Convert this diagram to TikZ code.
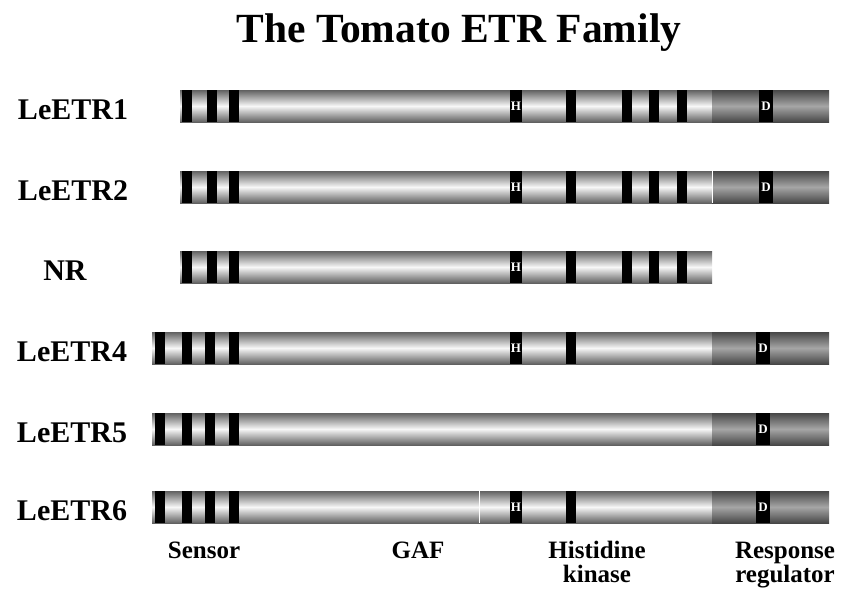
\documentclass[tikz,border=0pt]{standalone}
\usepackage{fontspec}
\setmainfont{Liberation Serif}

\tikzset{
  bar/.style={top color=black!62, bottom color=black!62, middle color=black!3},
  resp/.style={top color=black!72, bottom color=black!72, middle color=black!35},
  band/.style={fill=black},
  hbox/.style={fill=black, text=white, inner sep=0pt, minimum width=12pt,
               minimum height=32pt, font=\bfseries\fontsize{13}{13}\selectfont},
  dbox/.style={hbox, minimum width=14pt},
  protlbl/.style={font=\bfseries\fontsize{30}{30}\selectfont, anchor=base},
  domlbl/.style={font=\bfseries\fontsize{25}{25}\selectfont, anchor=base},
  gapline/.style={draw=white, line width=1pt}
}

\begin{document}
\begin{tikzpicture}[x=1pt,y=-1pt]
\useasboundingbox (0,0) rectangle (846,595);

\node [font=\bfseries\fontsize{41.5}{42}\selectfont, anchor=base] (title) at (459,42) {The Tomato ETR Family};

% LeETR1, LeETR2, NR
\foreach \y in {106,187,267} {
    \shade[bar] (180,\y-16) rectangle (712,\y+16);
    \foreach \x in {187,212,234,571,627,654,682}
        \fill[band] (\x-5,\y-16) rectangle (\x+5,\y+16);
    \node [hbox] (h\y) at (516,\y) {H};
}

\foreach \y in {106,187} {
    \shade[resp] (712,\y-16) rectangle (829,\y+16);
    \node [dbox] (d\y) at (766,\y) {D};
}
\draw[gapline] (712,171) -- (712,203);

% LeETR4, LeETR5, LeETR6
\foreach \y in {348,429,507} {
    \shade[bar] (152,\y-16) rectangle (712,\y+16);
    \shade[resp] (712,\y-16) rectangle (829,\y+16);
    \foreach \x in {159.5,186.5,209.5,234}
        \fill[band] (\x-5,\y-16) rectangle (\x+5,\y+16);
    \node [dbox] (d\y) at (763,\y) {D};
}

\foreach \y in {348,507} {
    \fill[band] (566,\y-16) rectangle (576,\y+16);
    \node [hbox] (h\y) at (516,\y) {H};
}
\draw[gapline] (479,491) -- (479,523);

% protein names
\node [protlbl] (n1) at (73,119) {LeETR1};
\node [protlbl] (n2) at (73,200) {LeETR2};
\node [protlbl] (n3) at (65,280) {NR};
\node [protlbl] (n4) at (72,361) {LeETR4};
\node [protlbl] (n5) at (72,442) {LeETR5};
\node [protlbl] (n6) at (72,520) {LeETR6};

% domains
\node [domlbl] (sensor) at (204,558) {Sensor};
\node [domlbl] (gaf)    at (418,558) {GAF};
\node [domlbl] (hk1)    at (597,558) {Histidine};
\node [domlbl] (hk2)    at (597,582) {kinase};
\node [domlbl] (rr1)    at (785,558) {Response};
\node [domlbl] (rr2)    at (785,582) {regulator};

\end{tikzpicture}
\end{document}
